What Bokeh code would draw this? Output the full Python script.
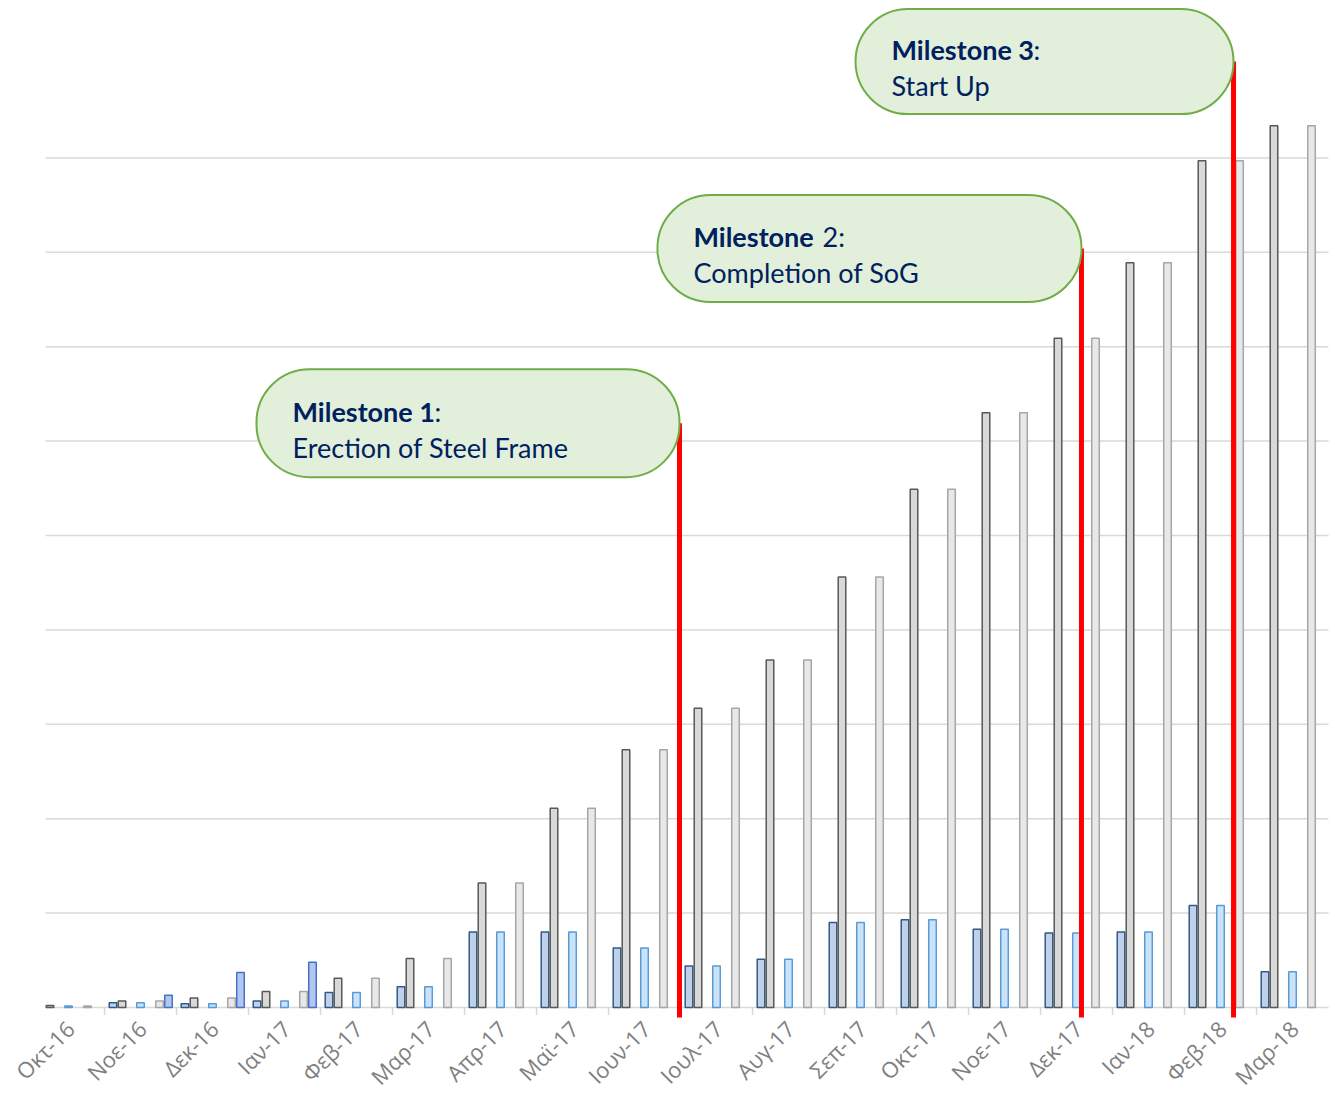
import math
from bokeh.plotting import figure
from bokeh.models import Range1d, ColumnDataSource
from bokeh.core.properties import value
from bokeh.embed import file_html
from bokeh.resources import INLINE

# ---------------- data ----------------
months = ["Οκτ-16", "Νοε-16", "Δεκ-16", "Ιαν-17", "Φεβ-17", "Μαρ-17", "Απρ-17", "Μαϊ-17",
          "Ιουν-17", "Ιουλ-17", "Αυγ-17", "Σεπ-17", "Οκτ-17", "Νοε-17", "Δεκ-17", "Ιαν-18",
          "Φεβ-18", "Μαρ-18"]
monthly_actual = [0, 0.5, 0.4, 0.7, 1.6, 2.2, 8.0, 8.0, 6.3, 4.4, 5.1, 9.0, 9.3, 8.3, 7.9, 8.0, 10.8, 3.8]
cumulative_actual = [0.2, 0.7, 1.0, 1.7, 3.1, 5.2, 13.2, 21.1, 27.3, 31.7, 36.8, 45.6, 54.9, 63.0, 70.9, 78.9, 89.7, 93.4]
monthly_plan = [0.15, 0.5, 0.4, 0.7, 1.6, 2.2, 8.0, 8.0, 6.3, 4.4, 5.1, 9.0, 9.3, 8.3, 7.9, 8.0, 10.8, 3.8]
cumulative_plan = [0.15, 0.7, 1.0, 1.7, 3.1, 5.2, 13.2, 21.1, 27.3, 31.7, 36.8, 45.6, 54.9, 63.0, 70.9, 78.9, 89.7, 93.4]
extra_series = [0, 1.3, 3.7, 4.8, 0, 0, 0, 0, 0, 0, 0, 0, 0, 0, 0, 0, 0, 0]
grid_values = [10, 20, 30, 40, 50, 60, 70, 80, 90]

milestone_titles_bold = ["Milestone 1", "Milestone", "Milestone 3"]
milestone_titles_rest = [":", "2:", ":"]
milestone_texts = ["Erection of Steel Frame", "Completion of SoG", "Start Up"]
milestone_x = [8.986, 14.569, 16.681]
milestone_top = [61.9, 80.4, 100.2]

# ---------------- styling / layout ----------------
W, H = 1330, 1092
PX_X = 72.0                  # px per category
PX_Y = 9.44                  # px per value unit
BASE = 1007                  # px of the zero line
x0 = -32 / PX_X
y_top = BASE / PX_Y
y_bot = (BASE - H) / PX_Y
p = figure(width=W, height=H, output_backend="svg", toolbar_location=None,
           x_range=Range1d(x0, x0 + W / PX_X), y_range=Range1d(y_bot, y_top),
           min_border=0, min_border_left=0, min_border_right=0, min_border_top=0,
           min_border_bottom=0)
p.xaxis.visible = False
p.yaxis.visible = False
p.grid.visible = False
p.outline_line_color = None
p.background_fill_color = "white"
p.border_fill_color = "white"

n = len(months)

grid_start = 13 / PX_X
p.segment(x0=[grid_start] * len(grid_values), x1=[n] * len(grid_values), y0=grid_values, y1=grid_values,
          line_color="#d9d9d9", line_width=1.5)
p.segment(x0=[grid_start], x1=[n], y0=[0], y1=[0], line_color="#d9d9d9", line_width=1.5)
bounds = list(range(1, n))
p.segment(x0=bounds, x1=bounds, y0=[0] * len(bounds), y1=[-0.8] * len(bounds), line_color="#d9d9d9", line_width=1.5)

bw = 0.105
series = [
    (monthly_actual, 0.118, "#c3d0ea", "#2f5b8a"),
    (cumulative_actual, 0.243, "#d9d9d9", "#595959"),
    (monthly_plan, 0.5, "#c9e3fb", "#5b9bd5"),
    (cumulative_plan, 0.764, "#e8e8e8", "#a6a6a6"),
    (extra_series, 0.889, "#b3c6f2", "#4472c4"),
]
for vals, off, fill, line in series:
    xs = [i + off for i, v in enumerate(vals) if v > 0]
    ys = [v for v in vals if v > 0]
    p.vbar(x=xs, top=ys, bottom=0, width=bw, fill_color=fill, line_color=line, line_width=1.5)

# category labels (rotated, right end at the category centre)
p.text(x=[i + 0.52 for i in range(n)], y=[-1.8] * n, text=months, angle=math.pi / 4,
       text_align="right", text_baseline="middle", text_color="#7f7f7f",
       text_font=value("Open Sans"), text_font_size="22px")

# milestone lines
p.segment(x0=milestone_x, x1=milestone_x, y0=[-1.06] * 3, y1=milestone_top, line_color="#ff0000", line_width=5)

# callouts
widths = [423, 424, 378]
heights = [108, 107, 105]
cx = [mx - (w / 2) / PX_X for mx, w in zip(milestone_x, widths)]
p.rect(x=cx, y=milestone_top, width=widths, height=heights, width_units="screen", height_units="screen",
       fill_color="#e2efda", line_color="#70ad47", line_width=2, border_radius=53)

left = [mx - w / PX_X + 36 / PX_X for mx, w in zip(milestone_x, widths)]
FONT = "Lato"
FS = "27px"
src = ColumnDataSource(dict(x=left, y=milestone_top, b=milestone_titles_bold, t=milestone_texts))
p.text(x="x", y="y", text="b", source=src, y_offset=-12, text_baseline="middle", text_align="left",
       text_color="#002060", text_font=value(FONT), text_font_style="bold", text_font_size=FS)
bold_w = [142, 129, 142]
rest_x = [lx + bwid / PX_X for lx, bwid in zip(left, bold_w)]
p.text(x=rest_x, y=milestone_top, text=milestone_titles_rest, y_offset=-12, text_baseline="middle",
       text_align="left", text_color="#002060", text_font=value(FONT), text_font_size=FS)
p.text(x="x", y="y", text="t", source=src, y_offset=24, text_baseline="middle", text_align="left",
       text_color="#002060", text_font=value(FONT), text_font_size=FS)

open("out.html", "w").write(file_html(p, INLINE))
